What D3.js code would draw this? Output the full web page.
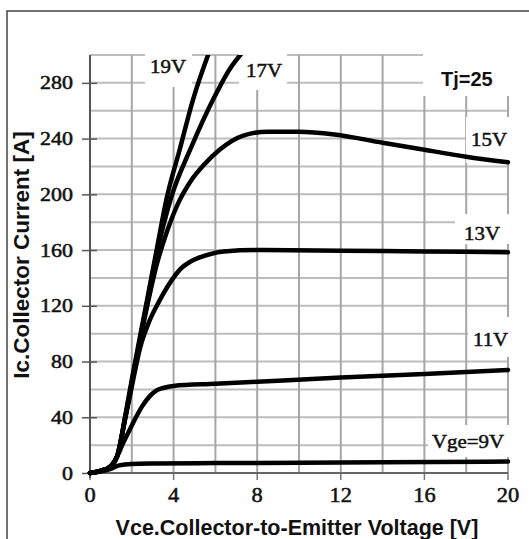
<!DOCTYPE html>
<html><head><meta charset="utf-8">
<script src="https://cdn.jsdelivr.net/npm/d3@7/dist/d3.min.js"></script>
<style>html,body{margin:0;padding:0;background:#fff;}svg{display:block;}</style>
</head><body>
<script>
// ---- data ----
const xTickValues = [0, 4, 8, 12, 16, 20];
const yTickValues = [0, 40, 80, 120, 160, 200, 240, 280];
const xGridValues = [2, 4, 6, 8, 10, 12, 14, 16, 18, 20];
const yGridValues = [20, 40, 60, 80, 100, 120, 140, 160, 180, 200, 220, 240, 260, 280, 300];
const seriesNames = ["19V", "17V", "15V", "13V", "11V", "Vge=9V"];
const vge19 = [[0,0],[0.5,1.5],[1,5],[1.3,12],[1.7,42],[2,67],[2.6,114],[3.2,161],[3.65,196],[4.29,232],[4.93,268],[5.65,300],[5.8,306]];
const vge17 = [[0,0],[0.5,1.5],[1,5],[1.3,12],[1.7,41],[2,65],[2.6,112],[3.2,158],[3.89,198],[4.85,234],[5.89,268],[6.69,290],[7.3,302]];
const vge15 = [[0,0],[0.5,1.5],[1,5],[1.3,12],[1.7,41],[2,64],[2.6,110],[3.2,150],[3.7,174],[4.2,193],[4.8,209],[5.5,222],[6.2,232],[7.3,242],[8.5,245],[10,245],[11.7,243],[14,237],[16,232],[18,227],[20,223]];
const vge13 = [[0,0],[0.5,1.5],[1,5],[1.3,12],[1.7,40],[2,62],[2.4,90],[2.84,109],[3.3,123],[3.72,134],[4.3,146],[4.84,152],[5.5,156],[6.4,159],[8,160],[12,159.5],[16,159],[20,158.5]];
const vge11 = [[0,0],[0.5,1.5],[1,5],[1.3,12],[1.6,22],[1.9,31],[2.2,40],[2.5,48],[2.85,55],[3.15,59],[3.5,61],[4,62.5],[6,64],[8,65.5],[12,68.5],[16,71],[20,74]];
const vge9 = [[0,0],[0.5,1],[1,3],[1.4,5.5],[2,6.5],[3,6.8],[6,7.1],[10,7.4],[14,7.7],[20,8.2]];
const allSeries = [vge19, vge17, vge15, vge13, vge11, vge9];

// ---- layout ----
const W = 529, H = 539;
const svg = d3.select("body").append("svg").attr("width", W).attr("height", H);
const x = d3.scaleLinear().domain([0, 20]).range([90, 508]);
const y = d3.scaleLinear().domain([0, 300]).range([473, 55]);

// outer frame
svg.append("rect").attr("x", 7).attr("y", 11).attr("width", 700).attr("height", 700)
  .attr("fill", "none").attr("stroke", "#444").attr("stroke-width", 1.5);

// grid
const grid = svg.append("g");
grid.selectAll("line.h").data(yGridValues).join("line")
  .attr("x1", x(0)).attr("x2", x(20)).attr("y1", d => y(d)).attr("y2", d => y(d))
  .attr("stroke", "#bdbdbd").attr("stroke-width", 2);
grid.selectAll("line.v").data(xGridValues).join("line")
  .attr("x1", d => x(d)).attr("x2", d => x(d)).attr("y1", y(300)).attr("y2", y(0))
  .attr("stroke", "#a6a6a6").attr("stroke-width", 2);
// x tick marks below axis
grid.selectAll("line.xt").data(xTickValues).join("line")
  .attr("x1", d => x(d)).attr("x2", d => x(d)).attr("y1", y(0)).attr("y2", y(0) + 7)
  .attr("stroke", "#777").attr("stroke-width", 1.5);

// axes
const yAxis = d3.axisLeft(y).tickValues(yTickValues).tickSize(7).tickFormat("");
const gy = svg.append("g").attr("transform", `translate(${x(0)},0)`).call(yAxis);
gy.select(".domain").remove();
gy.selectAll(".tick line").attr("stroke", "#555").attr("stroke-width", 1.5).attr("x2", -8).attr("x1", 7);
svg.append("line").attr("x1", x(0)).attr("x2", x(0)).attr("y1", y(300)).attr("y2", y(0) + 5)
  .attr("stroke", "#555").attr("stroke-width", 2);
svg.append("line").attr("x1", x(0) - 3).attr("x2", x(20)).attr("y1", y(0)).attr("y2", y(0))
  .attr("stroke", "#666").attr("stroke-width", 2);

// white label boxes (cover grid)
const boxes = [
  [145, 30, 47, 57],   // 19V
  [239, 30, 48, 60],   // 17V
  [423, 30, 110, 66],  // Tj
  [466, 117, 60, 46],  // 15V
  [455, 214, 70, 30],  // 13V
  [468, 317, 60, 40],  // 11V
  [428, 425, 100, 32]  // Vge=9V
];
svg.append("g").selectAll("rect").data(boxes).join("rect")
  .attr("x", d => d[0]).attr("y", d => d[1]).attr("width", d => d[2]).attr("height", d => d[3])
  .attr("fill", "#fff");

// curves
svg.append("clipPath").attr("id", "clip").append("rect")
  .attr("x", x(0) - 3).attr("y", y(300)).attr("width", x(20) - x(0) + 6).attr("height", y(0) - y(300) + 3);
const line = d3.line().x(d => x(d[0])).y(d => y(d[1])).curve(d3.curveMonotoneX);
svg.append("g").attr("clip-path", "url(#clip)").selectAll("path").data(allSeries).join("path")
  .attr("d", line).attr("fill", "none").attr("stroke", "#000").attr("stroke-width", 4.5)
  .attr("stroke-linecap", "round").attr("stroke-linejoin", "round");

// serif text helper (horizontally widened, slightly emboldened)
function serif(str, px, py, anchor, size, sx) {
  svg.append("text").attr("transform", `translate(${px},${py}) scale(${sx},1)`)
    .attr("text-anchor", anchor).attr("font-family", "Liberation Serif, Times New Roman, serif")
    .attr("font-size", size).attr("fill", "#111").attr("stroke", "#111").attr("stroke-width", 0.5)
    .text(str);
}
// y tick labels
yTickValues.forEach(v => serif(String(v), 73, y(v) + 6.5, "end", 18, 1.22));
// x tick labels
xTickValues.forEach(v => serif(String(v), x(v), 502, "middle", 20, 1.12));

// series labels
serif(seriesNames[0], 150, 73, "start", 19, 1.1);
serif(seriesNames[1], 246, 77, "start", 19, 1.1);
serif(seriesNames[2], 471, 146, "start", 19, 1.1);
serif(seriesNames[3], 464, 240, "start", 19, 1.1);
serif(seriesNames[4], 473, 346, "start", 19, 1.1);
serif(seriesNames[5], 432, 448, "start", 19, 1.1);

// Tj label
svg.append("text").attr("x", 441).attr("y", 86).attr("font-family", "Liberation Sans, Arial, sans-serif")
  .attr("font-weight", "bold").attr("font-size", 20).attr("fill", "#111").text("Tj=25");

// axis titles
svg.append("text").attr("x", 297).attr("y", 535).attr("text-anchor", "middle")
  .attr("font-family", "Liberation Sans, Arial, sans-serif").attr("font-weight", "bold")
  .attr("font-size", 21.5).attr("fill", "#111").text("Vce.Collector-to-Emitter Voltage [V]");
svg.append("text").attr("transform", "translate(29,255) rotate(-90)").attr("text-anchor", "middle")
  .attr("font-family", "Liberation Sans, Arial, sans-serif").attr("font-weight", "bold")
  .attr("font-size", 22.5).attr("fill", "#111").text("Ic.Collector Current [A]");
</script>
</body></html>
